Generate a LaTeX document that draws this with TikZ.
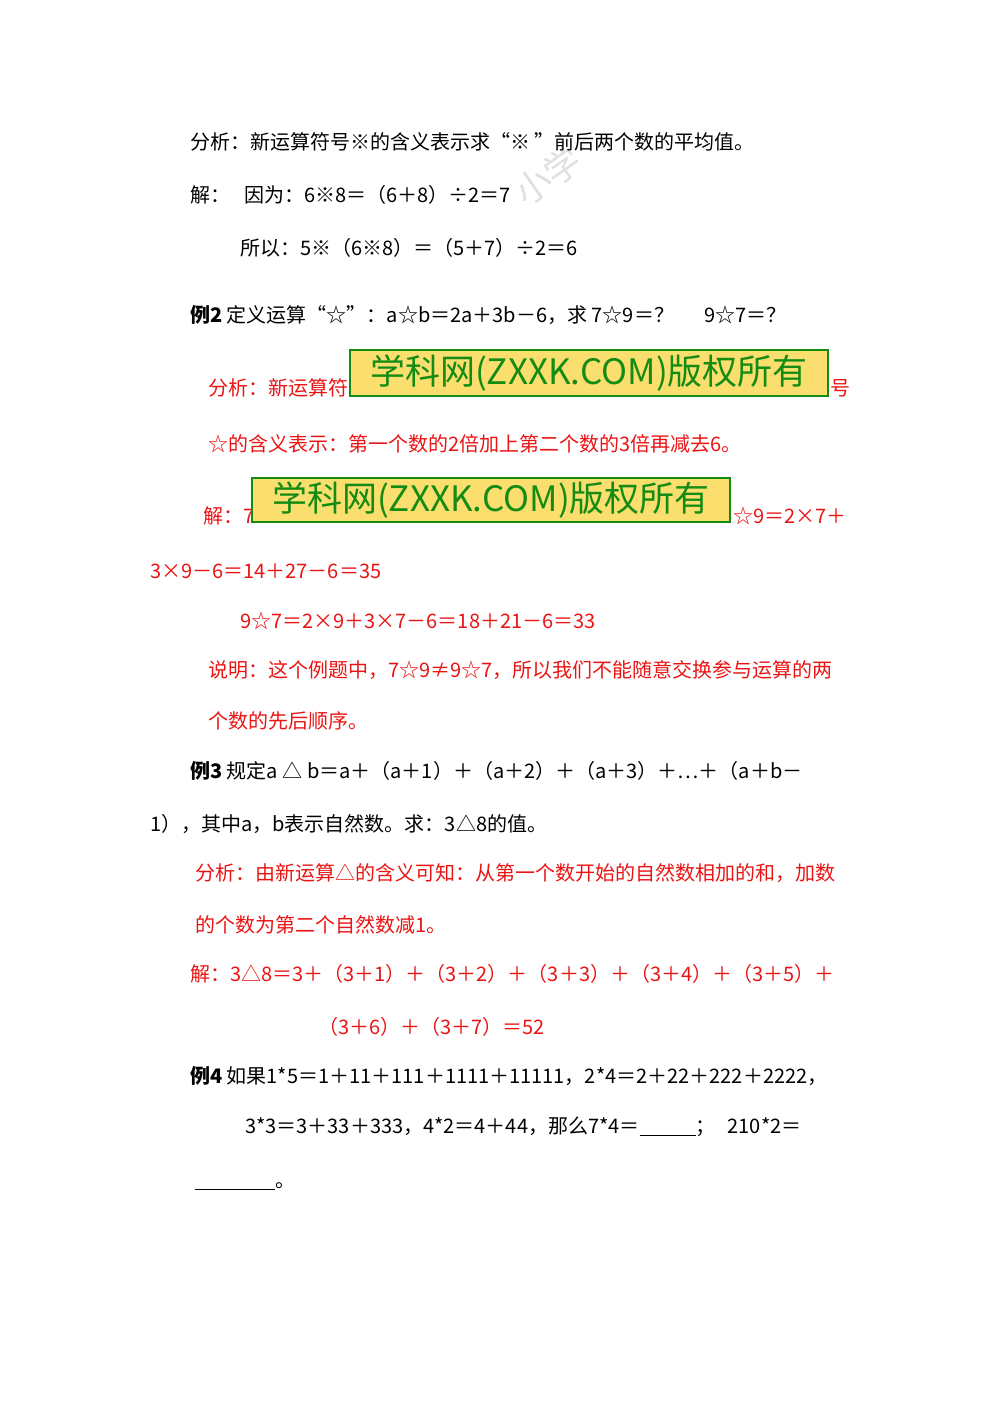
\documentclass[tikz,border=0pt]{standalone}
\usepackage{fontspec}
\setmainfont{Noto Sans CJK SC}
\definecolor{rd}{RGB}{235,20,20}
\definecolor{wmy}{RGB}{250,222,110}
\definecolor{wmg}{RGB}{20,140,20}
\begin{document}
\begin{tikzpicture}[x=1pt,y=-1pt,
  ln/.style={anchor=base west,inner sep=0pt,font=\fontsize{20}{22}\selectfont},
  rl/.style={ln,text=rd},
  wm/.style={draw=wmg,line width=1.2pt,fill=wmy,text=wmg,inner sep=0pt,font=\fontsize{35}{36}\selectfont}]
\useasboundingbox (0,0) rectangle (1000,1414);
\node[text=black!12,rotate=35,font=\fontsize{36}{36}\selectfont] (wmk) at (548,176) {小学};
\node[ln] (l1) at (190,149) {分析：新运算符号※的含义表示求“※ ”前后两个数的平均值。};
\node[ln] (l2) at (190,202) {解：\hspace{14pt}因为：6※8＝（6＋8）÷2＝7};
\node[ln] (l3) at (240,255) {所以：5※（6※8）＝（5＋7）÷2＝6};
\node[ln] (l4) at (190,322) {\textbf{例2} 定义运算“☆”：a☆b＝2a＋3b－6，求 7☆9＝？\hspace{30pt}9☆7＝？};
\node[rl] (l5) at (208,395) {分析：新运算符};
\node[wm,minimum width=478pt,minimum height=46pt] (b1) at (589,373) {学科网(ZXXK.COM)版权所有};
\node[rl] (l5b) at (830,395) {号};
\node[rl] (l6) at (208,451) {☆的含义表示：第一个数的2倍加上第二个数的3倍再减去6。};
\node[rl] (l7) at (203,523) {解：7};
\node[wm,minimum width=478pt,minimum height=44pt] (b2) at (491,500) {学科网(ZXXK.COM)版权所有};
\node[rl] (l7b) at (733,523) {☆9＝2×7＋};
\node[rl] (l8) at (150,578) {3×9－6＝14＋27－6＝35};
\node[rl] (l9) at (240,628) {9☆7＝2×9＋3×7－6＝18＋21－6＝33};
\node[rl] (l10) at (208,677) {说明：这个例题中，7☆9≠9☆7，所以我们不能随意交换参与运算的两};
\node[rl] (l11) at (208,728) {个数的先后顺序。};
\node[ln] (l12) at (190,778) {\textbf{例3} 规定a △ b＝a＋（a＋1）＋（a＋2）＋（a＋3）＋…＋（a＋b－};
\node[ln] (l13) at (150,831) {1），其中a，b表示自然数。求：3△8的值。};
\node[rl] (l14) at (195,880) {分析：由新运算△的含义可知：从第一个数开始的自然数相加的和，加数};
\node[rl] (l15) at (195,932) {的个数为第二个自然数减1。};
\node[rl] (l16) at (190,981) {解：3△8＝3＋（3＋1）＋（3＋2）＋（3＋3）＋（3＋4）＋（3＋5）＋};
\node[rl] (l17) at (318,1034) {（3＋6）＋（3＋7）＝52};
\node[ln] (l18) at (190,1083) {\textbf{例4} 如果1*5＝1＋11＋111＋1111＋11111，2*4＝2＋22＋222＋2222，};
\node[ln] (l19) at (245,1133) {3*3＝3＋33＋333，4*2＝4＋44，那么7*4＝\rule[-2pt]{56pt}{0.5pt}；\hspace{12pt}210*2＝};
\node[ln] (l20) at (195,1187) {\rule[-2pt]{80pt}{0.5pt}。};
\end{tikzpicture}
\end{document}
